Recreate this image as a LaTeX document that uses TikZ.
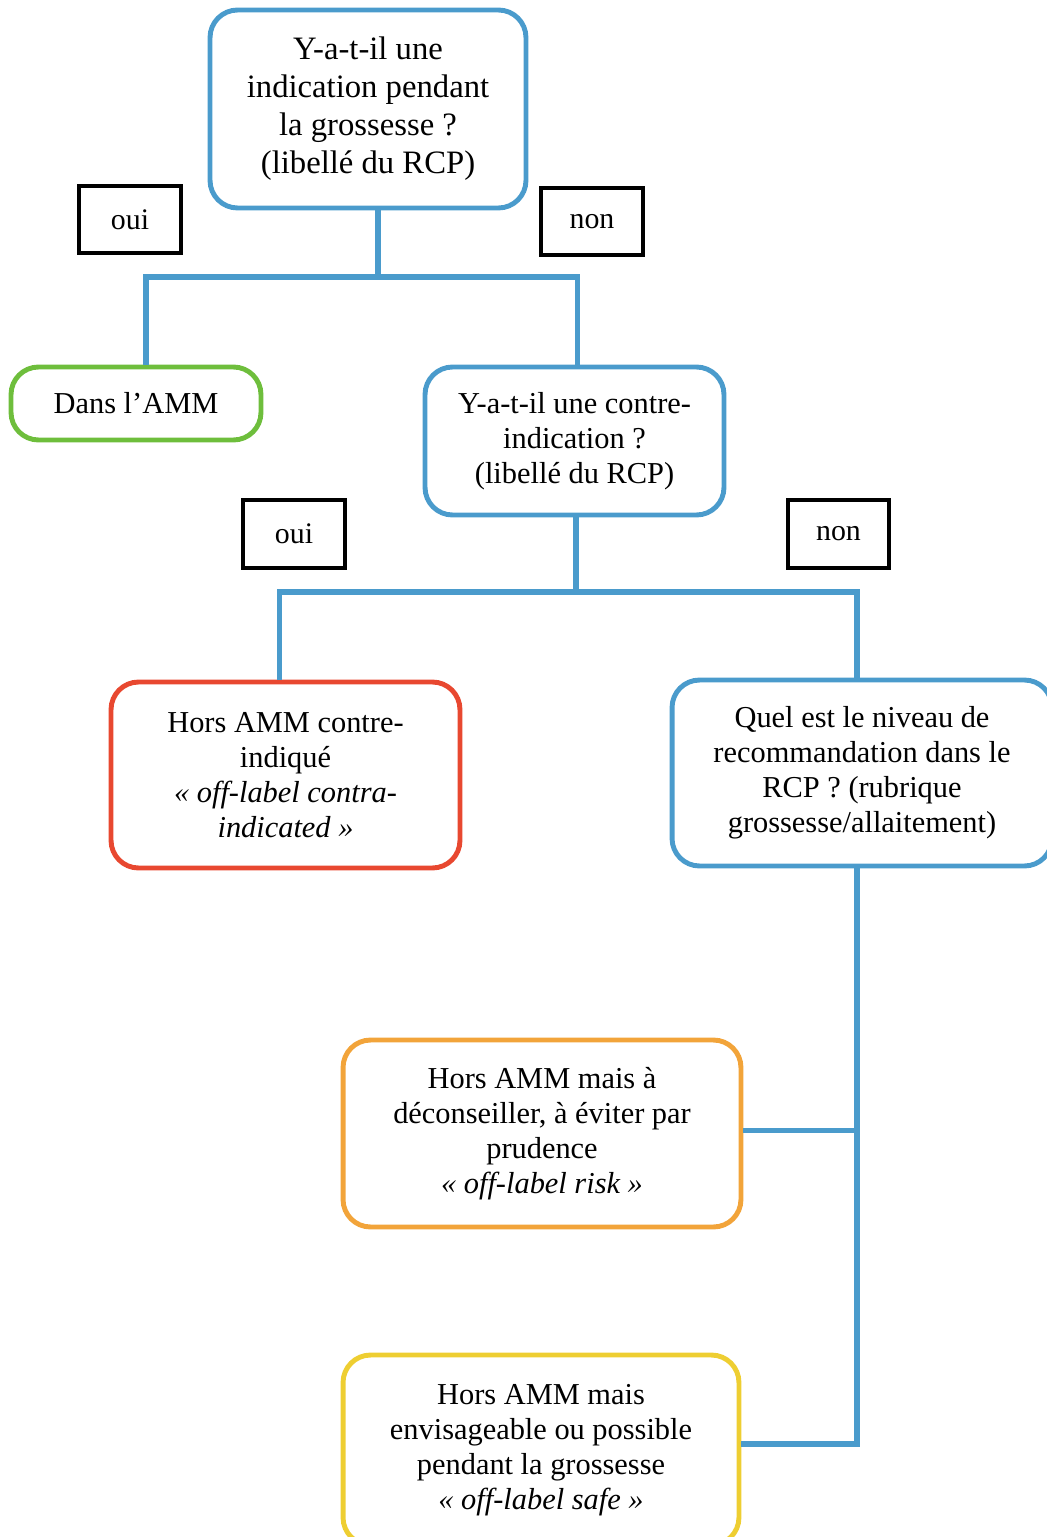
\documentclass[tikz,border=0pt]{standalone}
\usepackage{fontspec}
\setmainfont{Liberation Serif}
\usepackage{tikz}
\usetikzlibrary{positioning, calc}
\definecolor{myblue}{RGB}{74,155,204}
\definecolor{mygreen}{RGB}{110,190,60}
\definecolor{myred}{RGB}{232,72,48}
\definecolor{myorange}{RGB}{242,164,58}
\definecolor{myyellow}{RGB}{238,206,50}

\begin{document}
\begin{tikzpicture}[
    x=0.02cm, y=-0.02cm,
    box/.style={draw, line width=2.8pt, rounded corners=0.55cm, align=center, inner sep=2pt, font=\fontsize{17.3}{20}\selectfont},
    question/.style={box, draw=myblue},
    answer/.style={draw=black, line width=2.3pt, minimum width=2.04cm, minimum height=1.35cm, font=\fontsize{17}{20}\selectfont},
    link/.style={draw=myblue, line width=3.3pt}
]
    \useasboundingbox (0,0) rectangle (1047,1537);

    % First question
    \node[question, minimum width=6.32cm, minimum height=3.96cm, font=\fontsize{18.6}{21.6}\selectfont] (q_indic) at (368,109)
        {Y-a-t-il une\\indication pendant\\la grossesse ?\\(libellé du RCP)};
    \node[answer] (oui_a) at (130,219.5) {oui};
    \node[answer] (non_a) at (592,221.5) {non};

    % In label
    \node[box, draw=mygreen, minimum width=5cm, minimum height=1.46cm] (in_amm) at (136,403.5) {Dans l’AMM};

    % Second question
    \node[question, minimum width=5.98cm, minimum height=2.96cm] (q_contra) at (574.5,441)
        {Y-a-t-il une contre-\\indication ?\\(libellé du RCP)};
    \node[answer] (oui_b) at (294,534) {oui};
    \node[answer, minimum width=2.02cm] (non_b) at (838.5,534) {non};

    % Off-label results
    \node[box, draw=myred, minimum width=6.98cm, minimum height=3.72cm] (off_contra) at (285.5,775)
        {Hors AMM contre-\\indiqué\\\textit{« off-label contra-}\\\textit{indicated »}};
    \node[question, minimum width=7.6cm, minimum height=3.72cm] (q_level) at (862,773)
        {Quel est le niveau de\\recommandation dans le\\RCP ? (rubrique\\grossesse/allaitement)};
    \node[box, draw=myorange, minimum width=7.96cm, minimum height=3.74cm] (off_risk) at (542,1133.5)
        {Hors AMM mais à\\déconseiller, à éviter par\\prudence\\\textit{« off-label risk »}};
    \node[box, draw=myyellow, minimum width=7.92cm, minimum height=3.8cm] (off_safe) at (541,1450)
        {Hors AMM mais\\envisageable ou possible\\pendant la grossesse\\\textit{« off-label safe »}};

    % Tree connectors
    \coordinate (fork_a) at (378,277);
    \coordinate (fork_b) at (576,592);
    \draw[link] (q_indic.south -| fork_a) -- (fork_a);
    \draw[link] ([xshift=0.2cm]in_amm.north) |- (fork_a) -| ([xshift=0.06cm]q_contra.north);
    \draw[link] (q_contra.south -| fork_b) -- (fork_b);
    \draw[link] ([xshift=-0.12cm]off_contra.north) |- (fork_b) -| ([xshift=-0.1cm]q_level.north);
    \draw[link] ([xshift=-0.1cm]q_level.south) -- ([xshift=-0.1cm,yshift=0.12cm]q_level.south |- off_safe.east) -- ([yshift=0.12cm]off_safe.east);
    \draw[link] ([yshift=0.06cm]off_risk.east) -- ([xshift=-0.1cm,yshift=0.06cm]off_risk.east -| q_level.south);

\end{tikzpicture}
\end{document}
